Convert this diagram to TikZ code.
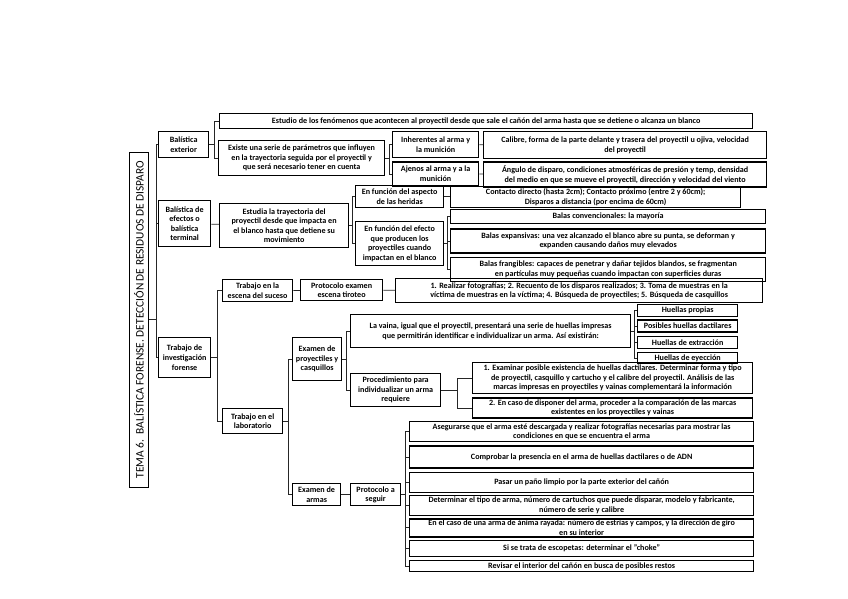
\documentclass[tikz,border=0pt]{standalone}
\usepackage{fontspec}
\setmainfont{Carlito}
\usetikzlibrary{positioning}

\begin{document}
\begin{tikzpicture}[x=1pt, y=-1pt, every node/.style={font=\fontsize{8.1}{9.6}\selectfont\bfseries}, box/.style={draw,line width=1.3pt,align=center,inner sep=0.3pt,anchor=north west}, link/.style={draw=black!85,line width=0.8pt}]
\useasboundingbox (0,0) rectangle (848,599);
\node[draw,line width=0.9pt,rotate=90,minimum width=335,minimum height=19,inner sep=0pt,font=\fontsize{11.4}{12}\selectfont] (tema) at (139,319.5) {TEMA 6.\ \ BALÍSTICA FORENSE. DETECCIÓN DE RESIDUOS DE DISPARO};
% balistica exterior
\node[box,minimum width=50,minimum height=26] (ext) at (158,131) {Balística\\exterior};
\node[box,minimum width=533,minimum height=15] (est) at (219,113) {Estudio de los fenómenos que acontecen al proyectil desde que sale el cañón del arma hasta que se detiene o alcanza un blanco};
\node[box,minimum width=166,minimum height=35] (exis) at (218,140) {Existe una serie de parámetros que influyen\\en la trayectoria seguida por el proyectil y\\que será necesario tener en cuenta};
\node[box,minimum width=86,minimum height=26] (inh) at (392,131) {Inherentes al arma y\\la munición};
\node[box,minimum width=86,minimum height=24,below=3pt of inh] (aje) {Ajenos al arma y a la\\munición};
\node[box,minimum width=283,minimum height=27] (cal) at (483,131) {Calibre, forma de la parte delante y trasera del proyectil u ojiva, velocidad\\del proyectil};
\node[box,minimum width=283,minimum height=25,below=2pt of cal] (ang) {Ángulo de disparo, condiciones atmosféricas de presión y temp, densidad\\del medio en que se mueve el proyectil, dirección y velocidad del viento};
% balistica terminal
\node[box,minimum width=52,minimum height=46] (term) at (158,200) {Balística de\\efectos o\\balística\\terminal};
\node[box,minimum width=129,minimum height=44] (estu) at (219,203) {Estudia la trayectoria del\\proyectil desde que impacta en\\el blanco hasta que detiene su\\movimiento};
\node[box,minimum width=88,minimum height=22] (asp) at (355,185) {En función del aspecto\\de las heridas};
\node[box,minimum width=88,minimum height=44] (efe) at (355,221) {En función del efecto\\que producen los\\proyectiles cuando\\impactan en el blanco};
\node[box,minimum width=290,minimum height=21] (cont) at (450,186) {Contacto directo (hasta 2cm); Contacto próximo (entre 2 y 60cm);\\Disparos a distancia (por encima de 60cm)};
\node[box,minimum width=315,minimum height=14] (conv) at (450,209) {Balas convencionales: la mayoría};
\node[box,minimum width=315,minimum height=24,below=4pt of conv] (exp) {Balas expansivas: una vez alcanzado el blanco abre su punta, se deforman y\\expanden causando daños muy elevados};
\node[box,minimum width=315,minimum height=24,below=3pt of exp] (fra) {Balas frangibles: capaces de penetrar y dañar tejidos blandos, se fragmentan\\en partículas muy pequeñas cuando impactan con superficies duras};
% trabajo de investigacion
\node[box,minimum width=52,minimum height=40] (inv) at (158,337) {Trabajo de\\investigación\\forense};
\node[box,minimum width=70,minimum height=22] (esc) at (222,279) {Trabajo en la\\escena del suceso};
\node[box,minimum width=82,minimum height=21] (prot) at (300,279) {Protocolo examen\\escena tiroteo};
\node[box,minimum width=367,minimum height=24] (real) at (395,278) {1. Realizar fotografías; 2. Recuento de los disparos realizados; 3. Toma de muestras en la\\víctima de muestras en la víctima; 4. Búsqueda de proyectiles; 5. Búsqueda de casquillos};
\node[box,minimum width=60,minimum height=25] (lab) at (222,408) {Trabajo en el\\laboratorio};
\node[box,minimum width=49,minimum height=43] (proy) at (292,337) {Examen de\\proyectiles y\\casquillos};
\node[box,minimum width=280,minimum height=33] (vaina) at (350,314) {La vaina, igual que el proyectil, presentará una serie de huellas impresas\\que permitirán identificar e individualizar un arma. Así existirán:};
\node[box,minimum width=100,minimum height=12] (hp) at (637,304) {Huellas propias};
\node[box,minimum width=100,minimum height=12,below=2pt of hp] (hd) {Posibles huellas dactilares};
\node[box,minimum width=100,minimum height=12,below=3pt of hd] (hx) {Huellas de extracción};
\node[box,minimum width=100,minimum height=11,below=3pt of hx] (hy) {Huellas de eyección};
\node[box,minimum width=90,minimum height=33] (proc) at (350,373) {Procedimiento para\\individualizar un arma\\requiere};
\node[box,minimum width=280,minimum height=31] (exa) at (472,362) {1. Examinar posible existencia de huellas dactilares. Determinar forma y tipo\\de proyectil, casquillo y cartucho y el calibre del proyectil. Análisis de las\\marcas impresas en proyectiles y vainas complementará la información};
\node[box,minimum width=280,minimum height=20,below=3pt of exa] (comp) {2. En caso de disponer del arma, proceder a la comparación de las marcas\\existentes en los proyectiles y vainas};
\node[box,minimum width=48,minimum height=22] (arm) at (292,483) {Examen de\\armas};
\node[box,minimum width=50,minimum height=22] (pas) at (350,483) {Protocolo a\\seguir};
\node[box,minimum width=344,minimum height=20] (s1) at (409,421) {Asegurarse que el arma esté descargada y realizar fotografías necesarias para mostrar las\\condiciones en que se encuentra el arma};
\node[box,minimum width=344,minimum height=22,below=3pt of s1] (s2) {Comprobar la presencia en el arma de huellas dactilares o de ADN};
\node[box,minimum width=344,minimum height=20,below=3pt of s2] (s3) {Pasar un paño limpio por la parte exterior del cañón};
\node[box,minimum width=344,minimum height=20,below=2pt of s3] (s4) {Determinar el tipo de arma, número de cartuchos que puede disparar, modelo y fabricante,\\número de serie y calibre};
\node[box,minimum width=344,minimum height=18,below=2pt of s4] (s5) {En el caso de una arma de ánima rayada: número de estrías y campos, y la dirección de giro\\en su interior};
\node[box,minimum width=344,minimum height=16,below=2pt of s5] (s6) {Si se trata de escopetas: determinar el "choke"};
\node[box,minimum width=344,minimum height=11,below=3pt of s6] (s7) {Revisar el interior del cañón en busca de posibles restos};
% connectors
\draw[link] (tema.south) -- ++(7,0) |- (ext.west);
\draw[link] (tema.south) -- ++(7,0) |- (term.west);
\draw[link] (tema.south) -- ++(7,0) |- (inv.west);
\draw[link] (ext.east) -- ++(5,0) |- (est.west);
\draw[link] (ext.east) -- ++(5,0) |- (exis.west);
\draw[link] (exis.east) -- ++(4,0) |- (inh.west);
\draw[link] (exis.east) -- ++(4,0) |- (aje.west);
\draw[link] (inh) -- (cal);
\draw[link] (aje) -- (ang);
\draw[link] (term) -- (estu);
\draw[link] (estu.east) -- ++(3.5,0) |- (asp.west);
\draw[link] (estu.east) -- ++(3.5,0) |- (efe.west);
\draw[link] (asp.east) -- (asp.east -| cont.west);
\draw[link] (efe.east) -- ++(3.5,0) |- (conv.west);
\draw[link] (efe.east) -- ++(3.5,0) |- (exp.west);
\draw[link] (efe.east) -- ++(3.5,0) |- (fra.west);
\draw[link] (inv.east) -- ++(6,0) |- (esc.west);
\draw[link] (inv.east) -- ++(6,0) |- (lab.west);
\draw[link] (esc) -- (prot);
\draw[link] (prot) -- (real);
\draw[link] (lab.east) -- ++(5,0) |- (proy.west);
\draw[link] (lab.east) -- ++(5,0) |- (arm.west);
\draw[link] (proy.east) -- ++(4.5,0) |- (vaina.west);
\draw[link] (proy.east) -- ++(4.5,0) |- (proc.west);
\draw[link] (vaina.east) -- ++(3.5,0) |- (hp.west);
\draw[link] (vaina.east) -- ++(3.5,0) |- (hd.west);
\draw[link] (vaina.east) -- ++(3.5,0) |- (hx.west);
\draw[link] (vaina.east) -- ++(3.5,0) |- (hy.west);
\draw[link] (proc.east) -- ++(16,0) |- (exa.west);
\draw[link] (proc.east) -- ++(16,0) |- (comp.west);
\draw[link] (arm) -- (pas);
\draw[link] (pas.east) -- ++(4.5,0) |- (s1.west);
\draw[link] (pas.east) -- ++(4.5,0) |- (s2.west);
\draw[link] (pas.east) -- ++(4.5,0) |- (s3.west);
\draw[link] (pas.east) -- ++(4.5,0) |- (s4.west);
\draw[link] (pas.east) -- ++(4.5,0) |- (s5.west);
\draw[link] (pas.east) -- ++(4.5,0) |- (s6.west);
\draw[link] (pas.east) -- ++(4.5,0) |- (s7.west);
\end{tikzpicture}
\end{document}
